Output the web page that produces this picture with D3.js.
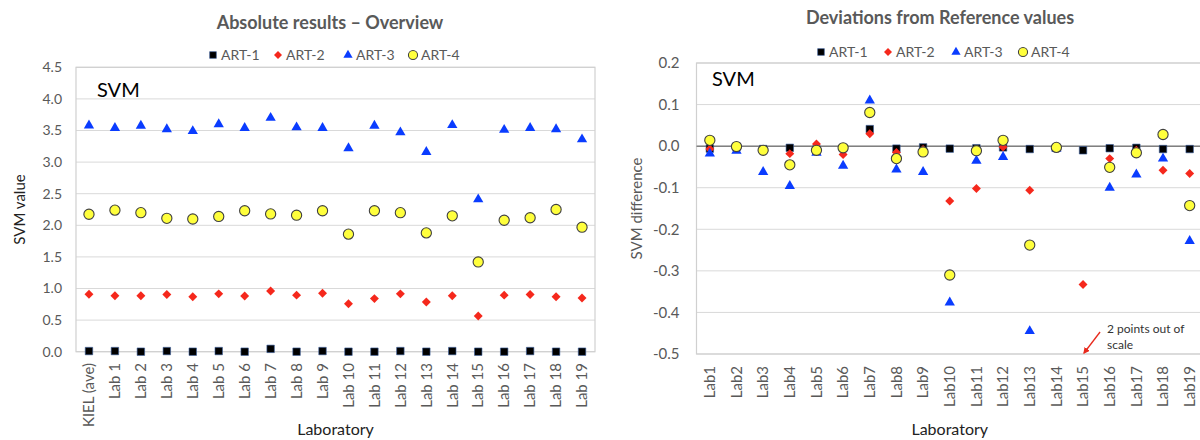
<!DOCTYPE html>
<html>
<head>
<meta charset="utf-8">
<script src="https://cdn.jsdelivr.net/npm/d3@7"></script>
<style>
  body { margin: 0; background: #fff; }
  svg text { font-family: Lato, "Open Sans", sans-serif; }
</style>
</head>
<body>
<svg id="chart" width="1200" height="440"></svg>
<script>
// categories
var labsAbs = ["KIEL (ave)", "Lab 1", "Lab 2", "Lab 3", "Lab 4", "Lab 5", "Lab 6", "Lab 7", "Lab 8", "Lab 9",
  "Lab 10", "Lab 11", "Lab 12", "Lab 13", "Lab 14", "Lab 15", "Lab 16", "Lab 17", "Lab 18", "Lab 19"];
var labsDev = ["Lab1", "Lab2", "Lab3", "Lab4", "Lab5", "Lab6", "Lab7", "Lab8", "Lab9", "Lab10",
  "Lab11", "Lab12", "Lab13", "Lab14", "Lab15", "Lab16", "Lab17", "Lab18", "Lab19"];
var seriesNames = ["ART-1", "ART-2", "ART-3", "ART-4"];

// absolute SVM values (left)
var art1Abs = [0.01, 0.01, 0.0, 0.01, 0.0, 0.01, 0.0, 0.045, 0.0, 0.01, 0.0, 0.0, 0.01, 0.0, 0.01, 0.0, 0.0, 0.01, 0.0, 0.0];
var art2Abs = [0.91, 0.885, 0.885, 0.905, 0.87, 0.915, 0.88, 0.96, 0.895, 0.925, 0.76, 0.84, 0.915, 0.785, 0.885, 0.565, 0.895, 0.905, 0.87, 0.85];
var art3Abs = [3.58, 3.54, 3.575, 3.52, 3.49, 3.60, 3.54, 3.70, 3.55, 3.54, 3.22, 3.575, 3.47, 3.16, 3.585, 2.41, 3.51, 3.54, 3.52, 3.36];
var art4Abs = [2.175, 2.24, 2.20, 2.11, 2.10, 2.14, 2.23, 2.18, 2.16, 2.23, 1.86, 2.23, 2.20, 1.88, 2.15, 1.42, 2.08, 2.12, 2.25, 1.97];

// deviations from reference (right); Lab15 ART-3/ART-4 are out of scale
var art1Dev = [-0.006, -0.002, -0.007, -0.004, -0.008, -0.005, 0.041, -0.006, -0.003, -0.006, -0.005, -0.003, -0.007, -0.004, -0.01, -0.005, -0.004, -0.007, -0.007];
var art2Dev = [-0.007, -0.003, -0.008, -0.018, 0.005, -0.02, 0.03, -0.015, -0.008, -0.132, -0.102, -0.002, -0.106, -0.004, -0.333, -0.03, -0.01, -0.058, -0.066];
var art3Dev = [-0.018, -0.011, -0.062, -0.096, -0.016, -0.047, 0.11, -0.056, -0.062, -0.376, -0.035, -0.026, -0.445, -0.006, -1.17, -0.1, -0.068, -0.03, -0.228];
var art4Dev = [0.014, -0.001, -0.01, -0.045, -0.01, -0.004, 0.081, -0.03, -0.014, -0.31, -0.011, 0.014, -0.238, -0.003, -0.755, -0.051, -0.016, 0.028, -0.143];

var ticksAbs = [0, 0.5, 1, 1.5, 2, 2.5, 3, 3.5, 4, 4.5];
var ticksDev = [0.2, 0.1, 0, -0.1, -0.2, -0.3, -0.4, -0.5];

var gray = "#595959";
var chart = d3.select("#chart");

// marker styles per series
var styles = [
  {type: d3.symbolSquare, size: 56, fill: "#000", stroke: "#3a5fa0", sw: 0.6, rot: 0},
  {type: d3.symbolSquare, size: 40, fill: "#f5281c", stroke: "none", sw: 0, rot: 45},
  {type: d3.symbolTriangle, size: 46, fill: "#0a3cff", stroke: "none", sw: 0, rot: 0},
  {type: d3.symbolCircle, size: 82, fill: "#ffff3c", stroke: "#404040", sw: 1.1, rot: 0}
];

function marker(sel, st, scale) {
  sel.attr("d", d3.symbol().type(st.type).size(st.size * (scale || 1)))
    .attr("fill", st.fill)
    .attr("stroke", st.stroke)
    .attr("stroke-width", st.sw);
}

// Excel-style labels: plain hyphen for negatives
function fmt(d) {
  return d3.format(".1f")(d).replace("\u2212", "-");
}

function drawPanel(cfg) {
  var x = d3.scalePoint().domain(cfg.cats).range([cfg.x0, cfg.x1]).padding(0.5);
  var y = d3.scaleLinear().domain(cfg.domain).range([cfg.yBottom, cfg.yTop]);
  var g = chart.append("g");

  // gridlines
  g.selectAll(".grid").data(cfg.ticks).enter().append("line")
    .attr("x1", cfg.x0).attr("x2", cfg.x1)
    .attr("y1", function(d) { return y(d); }).attr("y2", function(d) { return y(d); })
    .attr("stroke", "#d9d9d9").attr("stroke-width", 1);

  // plot border
  g.append("rect")
    .attr("x", cfg.x0).attr("y", cfg.yTop)
    .attr("width", cfg.x1 - cfg.x0).attr("height", cfg.yBottom - cfg.yTop)
    .attr("fill", "none").attr("stroke", "#d0d0d0").attr("stroke-width", 1.2);

  if (cfg.zeroLine) {
    g.append("line")
      .attr("x1", cfg.x0).attr("x2", cfg.x1)
      .attr("y1", y(0)).attr("y2", y(0))
      .attr("stroke", "#808080").attr("stroke-width", 1.5);
  }

  // y tick labels
  g.selectAll(".ytick").data(cfg.ticks).enter().append("text")
    .attr("x", cfg.x0 - cfg.tickPad)
    .attr("y", function(d) { return y(d); })
    .attr("dy", "0.35em")
    .attr("text-anchor", "end")
    .attr("fill", gray)
    .style("font-size", cfg.tickSize + "px")
    .text(fmt);

  // x tick labels (rotated)
  g.selectAll(".xtick").data(cfg.cats).enter().append("text")
    .attr("transform", function(d) { return "translate(" + x(d) + "," + cfg.xLabelTop + ") rotate(-90)"; })
    .attr("text-anchor", "end")
    .attr("dy", "0.35em")
    .attr("fill", gray)
    .style("font-size", "15px")
    .text(function(d) { return d; });

  // titles
  g.append("text")
    .attr("x", cfg.titleX).attr("y", cfg.titleY)
    .attr("text-anchor", "middle")
    .attr("fill", gray)
    .style("font-size", "18px").style("font-weight", "bold")
    .text(cfg.title);

  g.append("text")
    .attr("x", (cfg.x0 + cfg.x1) / 2).attr("y", 435)
    .attr("text-anchor", "middle")
    .attr("fill", "#222")
    .style("font-size", "16px")
    .text("Laboratory");

  g.append("text")
    .attr("transform", "translate(" + cfg.yTitleX + "," + (cfg.yTop + cfg.yBottom) / 2 + ") rotate(-90)")
    .attr("text-anchor", "middle")
    .attr("dy", "0.35em")
    .attr("fill", cfg.yTitleColor)
    .style("font-size", "15px")
    .text(cfg.yTitle);

  g.append("text")
    .attr("x", cfg.svmX).attr("y", cfg.svmY)
    .attr("fill", "#000")
    .style("font-size", "20px")
    .text("SVM");

  // legend
  var lg = g.append("g");
  seriesNames.forEach(function(name, i) {
    var lx = cfg.legendX[i];
    lg.append("path")
      .attr("transform", "translate(" + lx + "," + cfg.legendY + ") rotate(" + styles[i].rot + ")")
      .call(marker, styles[i], 0.8);
    lg.append("text")
      .attr("x", lx + 8).attr("y", cfg.legendY)
      .attr("dy", "0.35em")
      .attr("fill", gray)
      .style("font-size", "14px")
      .text(name);
  });

  // points, drawn series by series (ART-4 on top)
  cfg.series.forEach(function(vals, i) {
    var pts = vals.map(function(v, j) { return {cat: cfg.cats[j], v: v}; })
      .filter(function(p) { return p.v >= cfg.domain[0] && p.v <= cfg.domain[1]; });
    g.selectAll(".s" + i).data(pts).enter().append("path")
      .attr("transform", function(p) { return "translate(" + x(p.cat) + "," + y(p.v) + ") rotate(" + styles[i].rot + ")"; })
      .call(marker, styles[i]);
  });

  return {x: x, y: y, g: g};
}

drawPanel({
  cats: labsAbs, domain: [0, 4.5], ticks: ticksAbs,
  x0: 76, x1: 595, yTop: 67.3, yBottom: 351.7,
  tickPad: 14, tickSize: 14, xLabelTop: 363,
  title: "Absolute results \u2013 Overview", titleX: 330, titleY: 29,
  yTitle: "SVM value", yTitleX: 20, yTitleColor: "#222",
  svmX: 97, svmY: 97,
  legendX: [213, 278, 348, 413], legendY: 55,
  series: [art1Abs, art2Abs, art3Abs, art4Abs],
  zeroLine: false
});

var right = drawPanel({
  cats: labsDev, domain: [-0.5, 0.2], ticks: ticksDev,
  x0: 696.5, x1: 1203, yTop: 63, yBottom: 354,
  tickPad: 17, tickSize: 15, xLabelTop: 366,
  title: "Deviations from Reference values", titleX: 940, titleY: 24,
  yTitle: "SVM difference", yTitleX: 637, yTitleColor: gray,
  svmX: 712, svmY: 86,
  legendX: [821, 888, 956, 1023], legendY: 52,
  series: [art1Dev, art2Dev, art3Dev, art4Dev],
  zeroLine: true
});

// annotation for out-of-scale points
var defs = chart.append("defs");
defs.append("marker")
  .attr("id", "arrow").attr("viewBox", "0 0 10 10")
  .attr("refX", 8).attr("refY", 5)
  .attr("markerWidth", 5).attr("markerHeight", 5)
  .attr("orient", "auto")
  .append("path").attr("d", "M0,0 L10,5 L0,10 z").attr("fill", "#e8291c");

var ax = right.x("Lab15"), ay = right.y(-0.5);
right.g.append("line")
  .attr("x1", ax + 17).attr("y1", ay - 22)
  .attr("x2", ax + 1).attr("y2", ay - 1)
  .attr("stroke", "#e8291c").attr("stroke-width", 1.3)
  .attr("marker-end", "url(#arrow)");
right.g.append("text")
  .attr("x", ax + 24).attr("y", ay - 21)
  .attr("fill", "#333").style("font-size", "12px")
  .text("2 points out of");
right.g.append("text")
  .attr("x", ax + 24).attr("y", ay - 5)
  .attr("fill", "#333").style("font-size", "12px")
  .text("scale");
</script>
</body>
</html>
